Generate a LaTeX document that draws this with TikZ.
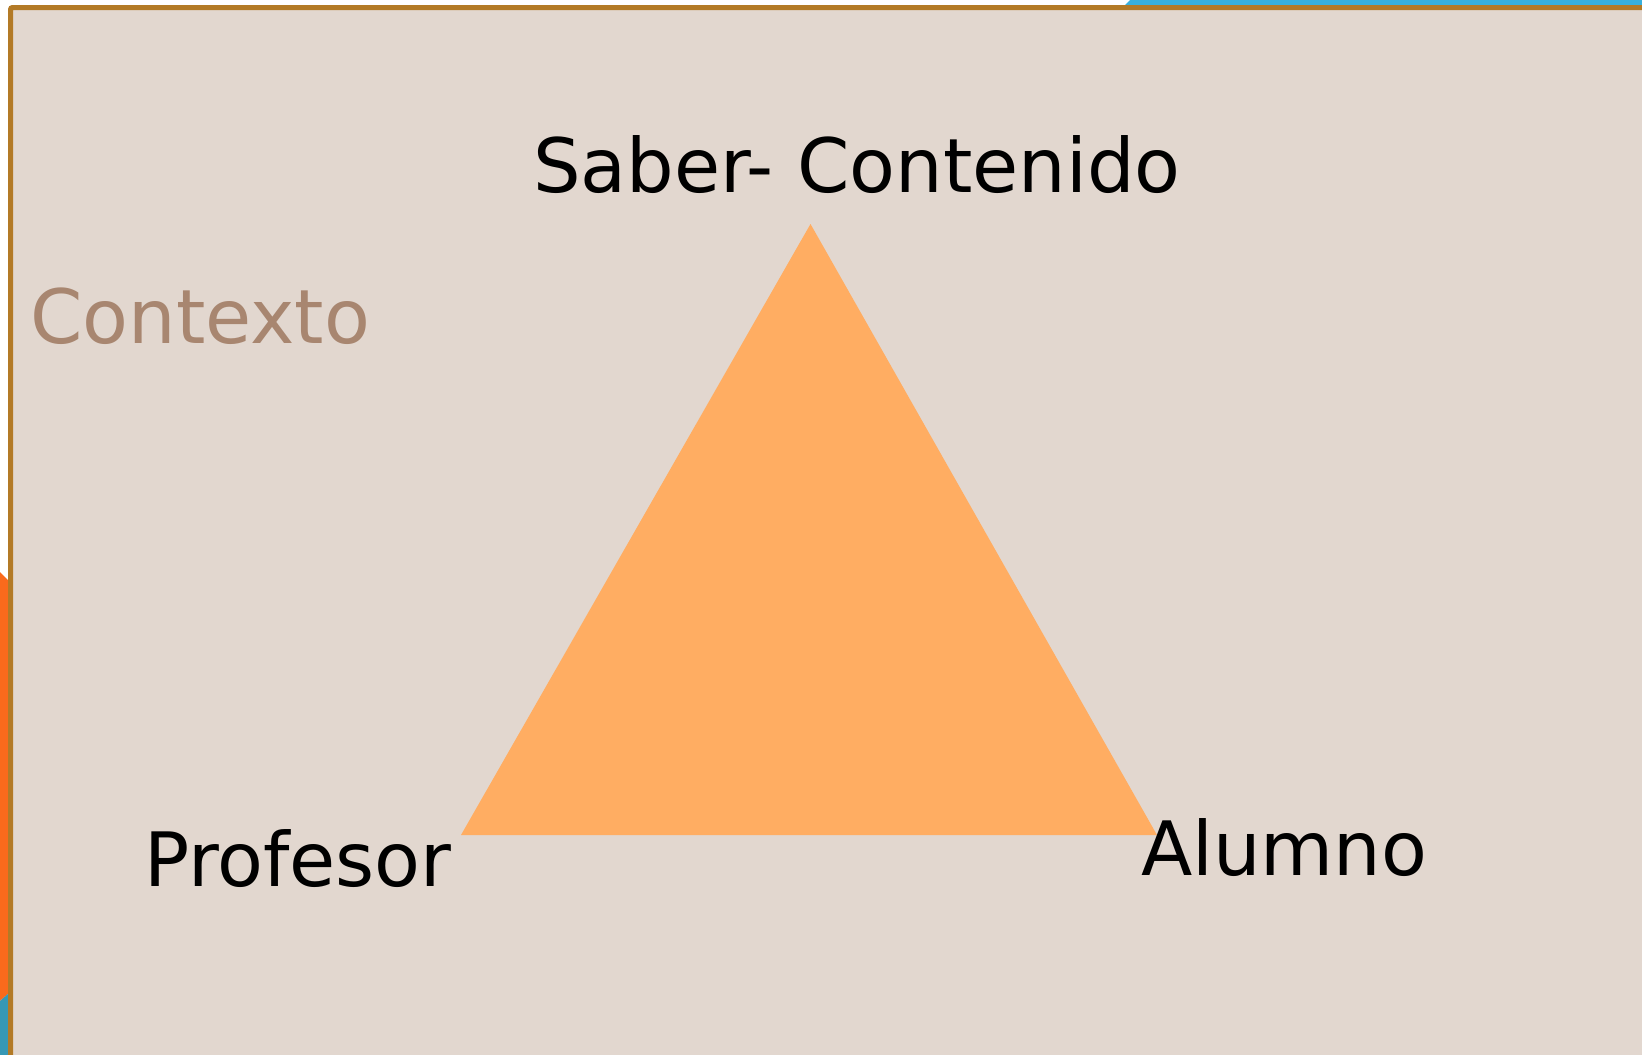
\documentclass[tikz,border=0pt]{standalone}
\usepackage{fontspec}
\setmainfont{DejaVu Sans}
\definecolor{fondo}{RGB}{226,215,207}
\definecolor{borde}{RGB}{179,122,38}
\definecolor{azulclaro}{RGB}{56,176,220}
\definecolor{azuloscuro}{RGB}{55,152,181}
\definecolor{naranja}{RGB}{250,106,28}
\definecolor{triangulo}{RGB}{255,173,98}
\definecolor{textocontexto}{RGB}{168,134,112}
\tikzstyle{marco} = [draw=borde, line width=5pt, fill=fondo, rounded corners=2pt]
\tikzstyle{etiqueta} = [anchor=base west, inner sep=0pt, text=black, font=\fontsize{75}{90}\selectfont]
\tikzstyle{contexto} = [etiqueta, text=textocontexto]

\begin{document}
\begin{tikzpicture}[x=1pt, y=-1pt]
        \useasboundingbox (0,0) rectangle (1642,1055);
        \clip (0,0) rectangle (1642,1055);
        % bandas de color detras del marco
        \fill [azulclaro] (1121,9) -- (1130,0) -- (1642,0) -- (1642,9) -- cycle;
        \fill [naranja] (0,572) -- (10,582) -- (10,992) -- (0,1001) -- cycle;
        \fill [azuloscuro] (0,1001) -- (10,992) -- (10,1055) -- (0,1055) -- cycle;
        \draw [marco] (10.5,7.5) rectangle (1700,1100);

        % triangulo
        \coordinate (saber) at (810.5,224);
        \coordinate (profe) at (461,835);
        \coordinate (alumno) at (1157,835);
        \fill [triangulo] (saber) -- (profe) -- (alumno) -- cycle;

        \node (contenido) [etiqueta] at (533,192) {Saber- Contenido};
        \node (ctx) [contexto] at (30,343) {Contexto};
        \node (profesor) [etiqueta] at (144,886) {Profesor};
        \node (alum) [etiqueta] at (1141,875) {Alumno};
    \end{tikzpicture}
\end{document}
